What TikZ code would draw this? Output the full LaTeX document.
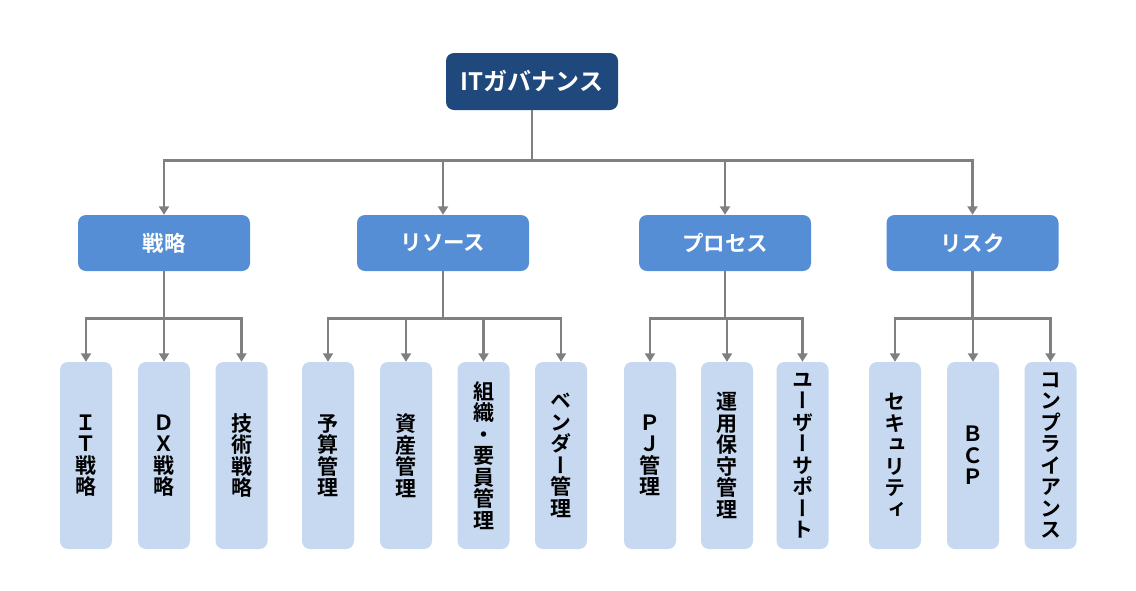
\documentclass[tikz,border=0pt]{standalone}
\usepackage{fontspec}
\setmainfont{Noto Sans CJK JP}[BoldFont={Noto Sans CJK JP Bold}]
\newfontfamily\vjp{Noto Sans CJK JP Bold}[RawFeature=+vert]
\usetikzlibrary{arrows.meta}
\definecolor{topblue}{RGB}{31,73,125}
\definecolor{midblue}{RGB}{85,142,213}
\definecolor{leafblue}{RGB}{198,217,240}
\definecolor{linegray}{RGB}{128,128,128}
\tikzset{
  topbox/.style={fill=topblue, rounded corners=8pt, minimum width=172pt, minimum height=57pt,
    text=white, font=\bfseries\fontsize{24}{26}\selectfont, inner sep=0pt},
  midbox/.style={fill=midblue, rounded corners=8pt, minimum width=172pt, minimum height=56pt,
    text=white, font=\bfseries\fontsize{21.5}{23}\selectfont, inner sep=0pt},
  leafbox/.style={fill=leafblue, rounded corners=8pt, minimum width=52pt, minimum height=187pt,
    text=black, font=\vjp\fontsize{21}{21.5}\selectfont, align=center, inner sep=0pt},
  conn/.style={draw=linegray, line width=2.6pt, -{Triangle[width=10pt,length=8.5pt]}},
}
\begin{document}
\begin{tikzpicture}[x=1pt,y=-1pt]
\useasboundingbox (0,0) rectangle (1136,590);
\fill[white] (0,0) rectangle (1136,590);
% top
\node[topbox] (top) at (532,81.5) {ITガバナンス};
% mid
\node[midbox] (m1) at (164,243) {戦略};
\node[midbox] (m2) at (443,243) {リソース};
\node[midbox] (m3) at (725,243) {プロセス};
\node[midbox] (m4) at (972.5,243) {リスク};
% leaves
\node[leafbox] (l1) at (86,455.5) {Ｉ\\Ｔ\\戦\\略};
\node[leafbox] (l2) at (164,455.5) {Ｄ\\Ｘ\\戦\\略};
\node[leafbox] (l3) at (241.5,455.5) {技\\術\\戦\\略};
\node[leafbox] (l4) at (328,455.5) {予\\算\\管\\理};
\node[leafbox] (l5) at (406,455.5) {資\\産\\管\\理};
\node[leafbox] (l6) at (483.5,455.5) {組\\織\\・\\要\\員\\管\\理};
\node[leafbox] (l7) at (561,455.5) {ベ\\ン\\ダ\\ー\\管\\理};
\node[leafbox] (l8) at (650,455.5) {Ｐ\\Ｊ\\管\\理};
\node[leafbox] (l9) at (727,455.5) {運\\用\\保\\守\\管\\理};
\node[leafbox] (l10) at (802.5,455.5) {ユ\\ー\\ザ\\ー\\サ\\ポ\\ー\\ト};
\node[leafbox] (l11) at (895,455.5) {セ\\キ\\ュ\\リ\\テ\\ィ};
\node[leafbox] (l12) at (973,455.5) {Ｂ\\Ｃ\\Ｐ};
\node[leafbox] (l13) at (1050.5,455.5) {コ\\ン\\プ\\ラ\\イ\\ア\\ン\\ス};
% connectors top -> mid
\foreach \m in {m1,m2,m3,m4}
  \draw[conn] (top.south) -- ++(0,50) -| (\m.north);
% mid -> leaves
\foreach \l in {l1,l2,l3}
  \draw[conn] (m1.south) -- ++(0,47) -| (\l.north);
\foreach \l in {l4,l5,l6,l7}
  \draw[conn] (m2.south) -- ++(0,47) -| (\l.north);
\foreach \l in {l8,l9,l10}
  \draw[conn] (m3.south) -- ++(0,47) -| (\l.north);
\foreach \l in {l11,l12,l13}
  \draw[conn] (m4.south) -- ++(0,47) -| (\l.north);
\end{tikzpicture}
\end{document}
